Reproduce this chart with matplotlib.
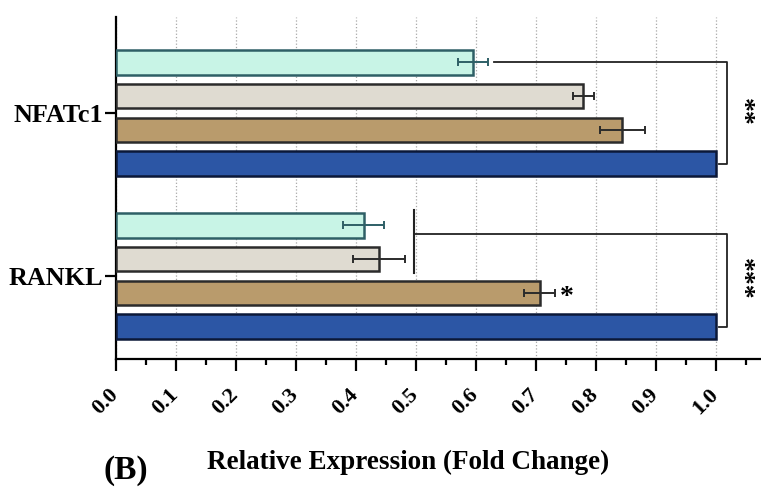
import numpy as np
import matplotlib.pyplot as plt
import matplotlib.transforms as mtransforms

plt.rcParams['font.family'] = ['Liberation Serif', 'DejaVu Serif']
plt.rcParams['font.weight'] = 'bold'

# Relative expression (fold change), one row per treatment
genes = ['NFATc1', 'RANKL']
groups = ['cyan', 'beige', 'tan', 'control']
means = {
    'cyan':    [0.595, 0.413],
    'beige':   [0.779, 0.438],
    'tan':     [0.844, 0.706],
    'control': [1.000, 1.000],
}
errors = {
    'cyan':    [0.025, 0.034],
    'beige':   [0.017, 0.043],
    'tan':     [0.038, 0.026],
    'control': [0.0, 0.0],
}
x_ticks = np.round(np.arange(0, 1.01, 0.1), 1)

fills = {'cyan': '#c8f4e6', 'beige': '#dfdbd1', 'tan': '#b99b6c', 'control': '#2c56a5'}
edges = {'cyan': '#2e5f66', 'beige': '#2b2b2b', 'tan': '#2b2b2b', 'control': '#0b1838'}

fig = plt.figure(figsize=(7.61, 4.92), dpi=100)
ax = fig.add_axes([116 / 761, 1 - 359 / 492, 1 - 116 / 761, (359 - 17) / 492])

step = 0.2067
bar_h = 0.15
offsets = (np.arange(len(groups)) - 1.5) * step
centers = np.arange(len(genes))

for g, off in zip(groups, offsets):
    y = centers + off
    ax.barh(y, means[g], height=bar_h, color=fills[g], edgecolor=edges[g],
            linewidth=1.8, zorder=3)
    if g != 'control':
        ax.errorbar(means[g], y, xerr=errors[g], fmt='none', ecolor=edges[g],
                    elinewidth=1.4, capsize=3, capthick=1.4, zorder=4)

ax.set_xlim(0, 1.075)
ax.set_ylim(1.509, -0.589)

# significance brackets
lc = '#222222'
yc = centers[0] + offsets
xb = 1.018
ax.plot([0.63, xb, xb, 1.005], [yc[0], yc[0], yc[3], yc[3]], color=lc, lw=1.3,
        zorder=5, clip_on=False)
ax.text(1.042, centers[0] - 0.005, '**', rotation=270, ha='center', va='center',
        fontsize=20, zorder=5)

yr = centers[1] + offsets
ax.plot([0.497, 0.497], [yr[0] - 0.095, yr[1] + 0.085], color=lc, lw=1.5, zorder=5)
ax.plot([0.497, xb, xb, 1.005], [yr[0] + 0.052, yr[0] + 0.052, yr[3], yr[3]],
        color=lc, lw=1.3, zorder=5, clip_on=False)
ax.text(1.042, centers[1] + 0.02, '***', rotation=270, ha='center', va='center',
        fontsize=20, zorder=5)
ax.text(means['tan'][1] + errors['tan'][1] + 0.008, yr[2] + 0.03, '*', ha='left',
        va='center', fontsize=20, zorder=5)

# axes styling
ax.spines['top'].set_visible(False)
ax.spines['right'].set_visible(False)
ax.spines['left'].set_linewidth(1.6)
ax.spines['bottom'].set_linewidth(1.6)
ax.set_xticks(x_ticks)
ax.set_xticklabels([f'{t:.1f}' for t in x_ticks], rotation=45, ha='right',
                   fontsize=16)
ax.set_xticks(np.arange(0.05, 1.06, 0.1), minor=True)
ax.tick_params(axis='x', which='major', length=8.5, width=1.6, pad=10)
ax.tick_params(axis='x', which='minor', length=4.3, width=1.6)
ax.set_yticks(centers)
ax.set_yticklabels(genes, fontsize=18.8)
ax.tick_params(axis='y', length=8, width=1.6, pad=1)

offset = mtransforms.ScaledTranslation(6 / 100, 0, fig.dpi_scale_trans)
for lbl in ax.get_xticklabels():
    lbl.set_transform(lbl.get_transform() + offset)

ax.grid(axis='x', which='major', linestyle=':', color='#a8a8a8', lw=0.9, zorder=0)
ax.set_axisbelow(True)

fig.text(408 / 761, 1 - 462 / 492, 'Relative Expression (Fold Change)',
         ha='center', va='center', fontsize=19.5)
fig.text(126 / 761, 1 - 471 / 492, '(B)', ha='center', va='center', fontsize=24)

fig.savefig('out.png', dpi=100)
